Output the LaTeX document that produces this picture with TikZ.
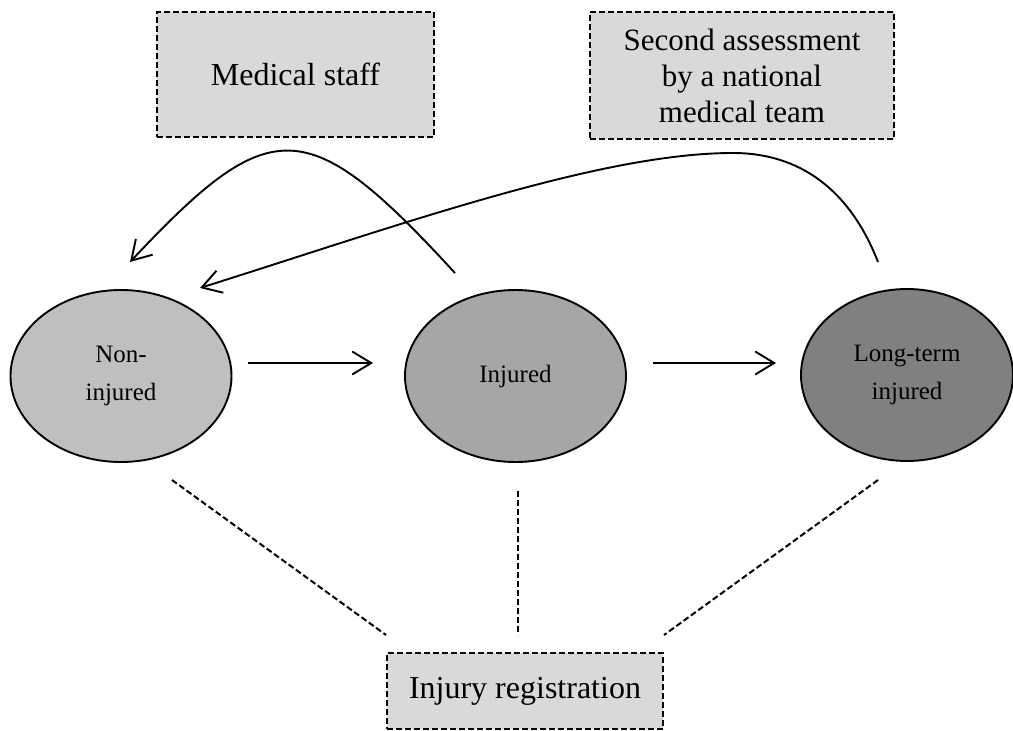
\documentclass[tikz,border=0pt]{standalone}
\usepackage{fontspec}
\setmainfont{Liberation Serif}
\usepackage{tikz}
\usetikzlibrary{arrows.meta,positioning,calc,shapes.geometric}

\definecolor{boxgray}{HTML}{D9D9D9}
\definecolor{lightstate}{HTML}{BFBFBF}
\definecolor{midstate}{HTML}{A6A6A6}
\definecolor{darkstate}{HTML}{808080}

\begin{document}
\begin{tikzpicture}[x=1pt,y=-1pt,
    dashbox/.style={draw,line width=2pt,dash pattern=on 6pt off 3pt,fill=boxgray,
      inner sep=0pt,align=center,font=\fontsize{32}{36}\selectfont},
    state/.style={ellipse,draw,line width=1.9pt,inner sep=0pt,minimum width=221pt,
      minimum height=172pt,align=center,font=\fontsize{25}{38}\selectfont},
    arr/.style={-{Straight Barb[length=19pt,width=23pt]},line width=1.9pt},
    link/.style={line width=2pt,dash pattern=on 6pt off 3pt}]
  \useasboundingbox (0,0) rectangle (1013,731);

  % states
  \node[state,fill=lightstate] (non) at (121,376) {Non-\\injured};
  \node[state,fill=midstate] (inj) at (515.5,376) {Injured};
  \node[state,fill=darkstate,minimum width=212pt] (lt) at (907,375) {Long-term\\injured};

  % assessors and registration
  \node[dashbox,minimum width=277pt,minimum height=125pt] (staff) at (295.5,74.5) {Medical staff};
  \node[dashbox,minimum width=304pt,minimum height=127pt,font=\fontsize{31}{36}\selectfont]
    (team) at (742,75.5) {Second assessment\\by a national\\medical team};
  \node[dashbox,minimum width=276pt,minimum height=76pt] (reg) at (525,691) {Injury registration};

  % forward transitions
  \draw[arr] ([yshift=13pt,xshift=16pt]non.east) -- ([yshift=13pt,xshift=-31pt]inj.west);
  \draw[arr] ([yshift=13pt,xshift=26pt]inj.east) -- ([yshift=12pt,xshift=-24pt]lt.west);

  % return transitions
  \coordinate (injout) at (455,273);
  \coordinate (nonin1) at (130,262);
  \coordinate (ltout) at (878,262);
  \coordinate (nonin2) at (200,288);
  \draw[arr] (injout) .. controls (307,112) and (271,112) .. (nonin1);
  \draw[arr] (ltout) .. controls (850,190) and (800,153) .. (733,153)
    .. controls (600,153) and (400,225) .. (nonin2);

  % links to registration
  \coordinate (nonlink) at (172,480);
  \coordinate (injlink) at (518,491);
  \coordinate (ltlink) at (878,480);
  \draw[link] (nonlink) -- ([yshift=17pt]reg.north west);
  \draw[link] (injlink) -- ([yshift=17pt,xshift=-7pt]reg.north);
  \draw[link] (ltlink) -- ([yshift=17pt]reg.north east);
\end{tikzpicture}
\end{document}
